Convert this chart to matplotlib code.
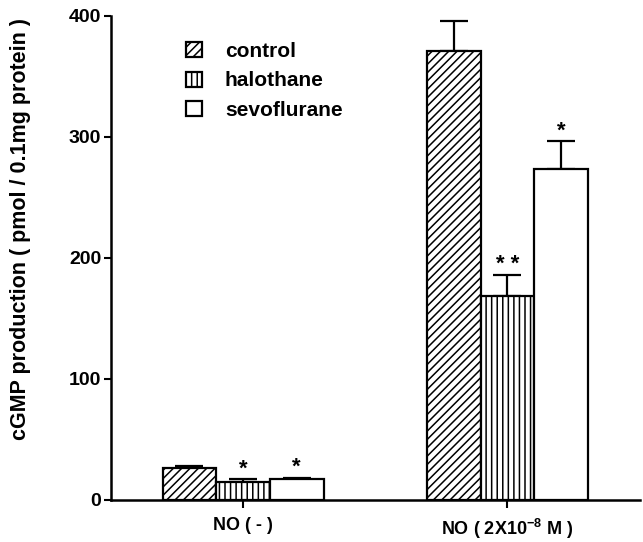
import matplotlib
matplotlib.use('Agg')
import matplotlib.pyplot as plt
import numpy as np

plt.rcParams['font.family'] = ['Liberation Sans', 'DejaVu Sans']
plt.rcParams['font.weight'] = 'bold'
plt.rcParams['hatch.linewidth'] = 1.1
plt.rcParams['mathtext.fontset'] = 'custom'
plt.rcParams['mathtext.rm'] = 'Liberation Sans:bold'
plt.rcParams['mathtext.bf'] = 'Liberation Sans:bold'

groups = ['NO ( - )', 'NO ( 2X10$^{\\mathbf{-8}}$ M )']
series = ['control', 'halothane', 'sevoflurane']
means = {
    'control': [26.7, 371],
    'halothane': [14.9, 168.6],
    'sevoflurane': [17.6, 273.5],
}
errs = {
    'control': [1.6, 25],
    'halothane': [2.1, 17],
    'sevoflurane': [0.8, 23],
}
stars = {
    'control': ['', ''],
    'halothane': ['*', '* *'],
    'sevoflurane': ['*', '*'],
}
hatches = ['////', '|||', '']

fig = plt.figure(figsize=(6.43, 5.42), dpi=100)
ax = fig.add_axes([0.1726, 0.0775, 0.822, 0.893])

x = np.arange(len(groups))
w = 0.203
handles = []
for i, s in enumerate(series):
    pos = x + (i - 1) * w
    b = ax.bar(pos, means[s], w, color='white', edgecolor='black',
               linewidth=1.6, hatch=hatches[i], label=s, zorder=2)
    handles.append(b)
    ax.errorbar(pos, means[s], yerr=[np.zeros(len(groups)), errs[s]],
                fmt='none', ecolor='black', elinewidth=1.6, capsize=10,
                capthick=1.6, zorder=1)
    for p, m, e, st in zip(pos, means[s], errs[s], stars[s]):
        if st:
            ax.annotate(st, (p, m + e), xytext=(0, 0), textcoords='offset points',
                        ha='center', va='bottom', fontsize=16, fontweight='bold')

ax.set_xlim(-0.5, 1.5)
ax.set_ylim(0, 400)
ax.set_yticks([0, 100, 200, 300, 400])
ax.set_xticks(x)
ax.set_xticklabels(groups, fontsize=13, fontweight='bold')
ax.tick_params(axis='y', labelsize=14, width=1.5, length=5, direction='out', pad=2)
ax.tick_params(axis='x', width=1.5, length=6, direction='out', pad=6)
for lab in ax.get_yticklabels():
    lab.set_fontweight('bold')
ax.spines['top'].set_visible(False)
ax.spines['right'].set_visible(False)
ax.spines['left'].set_linewidth(1.8)
ax.spines['bottom'].set_linewidth(1.8)
ax.set_ylabel('cGMP production ( pmol / 0.1mg protein )', fontsize=15.5,
              fontweight='bold')
ax.yaxis.set_label_coords(-0.152, 0.56)

leg = ax.legend(handles=handles, labels=series, loc='upper left',
                bbox_to_anchor=(0.107, 0.985), frameon=False, fontsize=15,
                handlelength=0.75, handleheight=0.75, handletextpad=1.1,
                labelspacing=0.5)

fig.savefig('out.png', dpi=100)
